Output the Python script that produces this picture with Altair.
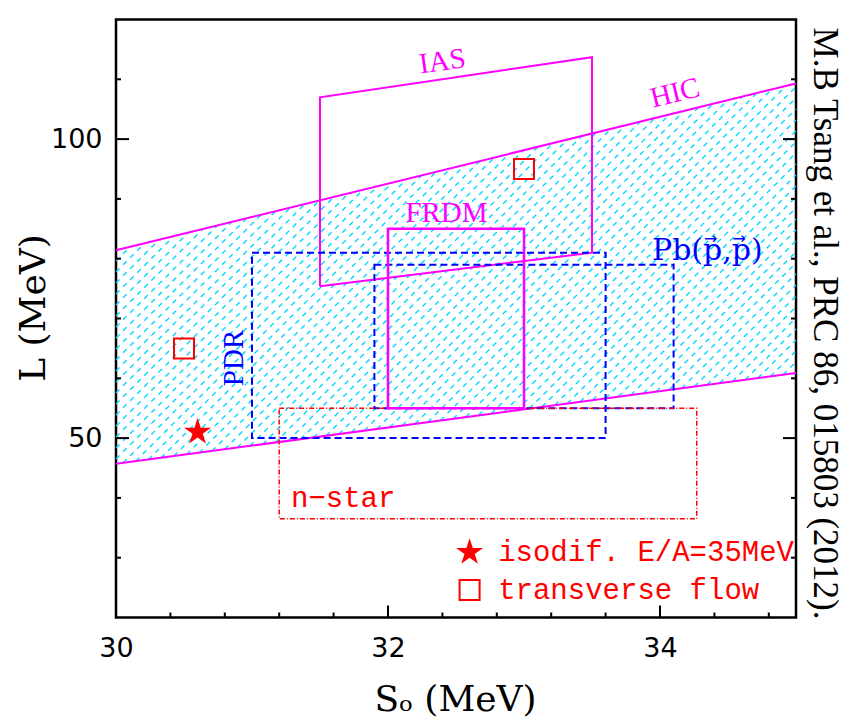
import altair as alt
import pandas as pd
import numpy as np

# ---------------- data ----------------
hic_S = [30.0, 35.0]
hic_upper = [81.4, 109.3]
hic_lower = [45.7, 60.9]

ias_S = [31.5, 33.5, 33.5, 31.5, 31.5]
ias_L = [75.4, 81.0, 113.7, 107.0, 75.4]

frdm_S = [32.0, 33.0]
frdm_L = [55.0, 85.0]
pdr_S = [31.0, 33.6]
pdr_L = [50.0, 81.0]
pbpp_S = [31.9, 34.1]
pbpp_L = [55.0, 79.0]
nstar_S = [31.2, 34.27]
nstar_L = [36.5, 55.0]

flow_S = [30.5, 33.0]
flow_L = [65.0, 95.0]
isodif_S = [30.6]
isodif_L = [51.0]

x_major = [30, 32, 34]
x_minor = [30.4, 30.8, 31.2, 31.6, 32.4, 32.8, 33.2, 33.6, 34.4, 34.8]
y_major = [50, 100]
y_minor = [30, 40, 60, 70, 80, 90, 110]

legend_labels = ["isodif. E/A=35MeV", "transverse flow"]
citation = "M.B Tsang et al., PRC 86, 015803 (2012)."

# ---------------- layout / style ----------------
W, H = 680, 598
XD, YD = [30, 35], [20, 120]
MAG, BLUE, RED, CYAN = "#ff00ff", "#0000ff", "#ff0000", "#00d8ff"
SERIF = "Liberation Serif"
MONO = "Liberation Mono"
STAR = ("M0,-1L0.2245,-0.309L0.951,-0.309L0.363,0.118L0.588,0.809L0,0.382"
        "L-0.588,0.809L-0.363,0.118L-0.951,-0.309L-0.2245,-0.309Z")

xs = alt.Scale(domain=XD, nice=False, zero=False)
ys = alt.Scale(domain=YD, nice=False, zero=False)

xaxis = alt.Axis(values=x_major, ticks=False, tickSize=0, domain=False, grid=False,
                 labelFont="DejaVu Sans", labelFontSize=27, labelPadding=18,
                 labelColor="black", labelFlush=False, labelOverlap=False,
                 title="S\u2092 (MeV)", titleFont="DejaVu Serif", titleFontSize=36,
                 titleFontWeight="normal", titleColor="black", titleX=339, titleY=93,
                 titleAlign="center", titleBaseline="alphabetic")
yaxis = alt.Axis(values=y_major, ticks=False, tickSize=0, domain=False, grid=False,
                 labelFont="DejaVu Sans", labelFontSize=27, labelPadding=14,
                 labelColor="black", labelFlush=False, labelOverlap=False,
                 title="L (MeV)", titleFont="DejaVu Serif", titleFontSize=36,
                 titleFontWeight="normal", titleColor="black", titleX=-83, titleY=288,
                 titleAngle=270, titleAlign="center", titleBaseline="middle")


def X(f):
    return alt.X(f, type="quantitative", scale=xs, axis=xaxis)


def Y(f):
    return alt.Y(f, type="quantitative", scale=ys, axis=yaxis)


layers = []

# hatch texture of the HIC band (45 degree dashed strokes clipped to the band)
sx, sy = W / (XD[1] - XD[0]), H / (YD[1] - YD[0])
k = sx / sy
m_up = (hic_upper[1] - hic_upper[0]) / (hic_S[1] - hic_S[0])
m_lo = (hic_lower[1] - hic_lower[0]) / (hic_S[1] - hic_S[0])
span = hic_S[1] - hic_S[0]
da = 11 / sx * k
rows = []
for a in np.arange(hic_lower[0] - span * (k - m_lo), hic_upper[0], da):
    t1 = (hic_lower[0] - a) / (k - m_lo)
    t2 = (hic_upper[0] - a) / (k - m_up)
    ts, te = max(t1, 0.0), min(t2, span)
    if te > ts:
        rows.append({"S": hic_S[0] + ts, "L": a + k * ts,
                     "S2": hic_S[0] + te, "L2": a + k * te})
hatch = pd.DataFrame(rows)
layers.append(alt.Chart(hatch).mark_rule(color=CYAN, strokeWidth=1.4, strokeDash=[5, 5])
              .encode(x=X("S"), y=Y("L"), x2="S2", y2="L2"))

# HIC band edges
hic = pd.DataFrame({"S": hic_S * 2, "L": hic_upper + hic_lower,
                    "edge": ["up"] * 2 + ["lo"] * 2})
layers.append(alt.Chart(hic).mark_line(color=MAG, strokeWidth=2)
              .encode(x=X("S"), y=Y("L"), detail="edge:N"))

# IAS parallelogram
ias = pd.DataFrame({"S": ias_S, "L": ias_L, "i": list(range(len(ias_S)))})
layers.append(alt.Chart(ias).mark_line(color=MAG, strokeWidth=2)
              .encode(x=X("S"), y=Y("L"), order="i:Q"))


def box(Sv, Lv, **kw):
    d = pd.DataFrame({"S1": [Sv[0]], "S2": [Sv[1]], "L1": [Lv[0]], "L2": [Lv[1]]})
    return alt.Chart(d).mark_rect(fillOpacity=0, **kw).encode(
        x=X("S1"), x2="S2", y=Y("L1"), y2="L2")


layers.append(box(pdr_S, pdr_L, stroke=BLUE, strokeWidth=2, strokeDash=[7, 4]))
layers.append(box(pbpp_S, pbpp_L, stroke=BLUE, strokeWidth=2, strokeDash=[7, 4]))
layers.append(box(nstar_S, nstar_L, stroke=RED, strokeWidth=1.5, strokeDash=[5, 2, 1, 2]))
layers.append(box(frdm_S, frdm_L, stroke=MAG, strokeWidth=2.5))

# data points
flow = pd.DataFrame({"S": flow_S, "L": flow_L})
layers.append(alt.Chart(flow).mark_point(shape="square", size=400, filled=False,
                                         color=RED, strokeWidth=2, opacity=1)
              .encode(x=X("S"), y=Y("L")))
iso = pd.DataFrame({"S": isodif_S, "L": isodif_L})
layers.append(alt.Chart(iso).mark_point(shape=STAR, size=800, filled=True,
                                        color=RED, opacity=1)
              .encode(x=X("S"), y=Y("L")))


def label(S, L, txt, color, font=SERIF, size=29, angle=0, align="center", baseline="middle"):
    d = pd.DataFrame({"S": [S], "L": [L], "t": [txt]})
    return alt.Chart(d).mark_text(color=color, font=font, fontSize=size, angle=angle,
                                  align=align, baseline=baseline).encode(
        x=X("S"), y=Y("L"), text="t:N")


layers.append(label(32.40, 113.0, "IAS", MAG, angle=352))
layers.append(label(34.11, 107.7, "HIC", MAG, angle=346))
layers.append(label(32.43, 87.7, "FRDM", MAG))
# Pb(p,p) with vector arrows over the p's
layers.append(label(33.941, 79.78, "Pb(p,p)", BLUE, font="DejaVu Serif", size=30,
                    align="left", baseline="alphabetic"))
layers.append(label(34.372, 83.3, "\u2192", BLUE, font="DejaVu Sans", size=16))
layers.append(label(34.583, 83.3, "\u2192", BLUE, font="DejaVu Sans", size=16))
layers.append(label(30.87, 63.4, "PDR", BLUE, angle=270))
layers.append(label(31.67, 40.0, "n\u2212star", RED, font=MONO, size=29))

# legend
leg_sym_S = 32.6
leg_L = [30.9, 24.6]
layers.append(alt.Chart(pd.DataFrame({"S": [leg_sym_S], "L": [leg_L[0]]}))
              .mark_point(shape=STAR, size=800, filled=True, color=RED, opacity=1)
              .encode(x=X("S"), y=Y("L")))
layers.append(alt.Chart(pd.DataFrame({"S": [leg_sym_S], "L": [leg_L[1]]}))
              .mark_point(shape="square", size=400, filled=False, color=RED,
                          strokeWidth=2, opacity=1)
              .encode(x=X("S"), y=Y("L")))
for lab, lv in zip(legend_labels, leg_L):
    layers.append(label(32.81, lv, lab, RED, font=MONO, size=29, align="left"))


# inward ticks
def xticks(vals, ln):
    return alt.Chart(pd.DataFrame({"S": vals})).mark_rule(color="black", strokeWidth=2).encode(
        x=X("S"), y=alt.value(H), y2=alt.value(H - ln))


def yticks(vals, ln, right=False):
    x0 = W if right else 0
    x1 = W - ln if right else ln
    return alt.Chart(pd.DataFrame({"L": vals})).mark_rule(color="black", strokeWidth=2).encode(
        y=Y("L"), x=alt.value(x0), x2=alt.value(x1))


layers += [xticks(x_major, 12), xticks(x_minor, 5),
           yticks(y_major, 13), yticks(y_minor, 5),
           yticks(y_major, 13, True), yticks(y_minor, 5, True)]

# citation on the right
layers.append(alt.Chart(pd.DataFrame({"t": [citation]})).mark_text(
    font=SERIF, fontSize=35, angle=90, align="center", baseline="alphabetic", color="black")
    .encode(text="t:N", x=alt.value(698), y=alt.value(304)))

chart = alt.layer(*layers).properties(
    width=W, height=H,
    autosize=alt.AutoSizeParams(type="none"),
    padding={"left": 108, "top": 11.5, "right": 52, "bottom": 102.5},
).configure_view(stroke="black", strokeWidth=2.5)

chart.save("out.html", embed_options={"renderer": "svg", "actions": False})
